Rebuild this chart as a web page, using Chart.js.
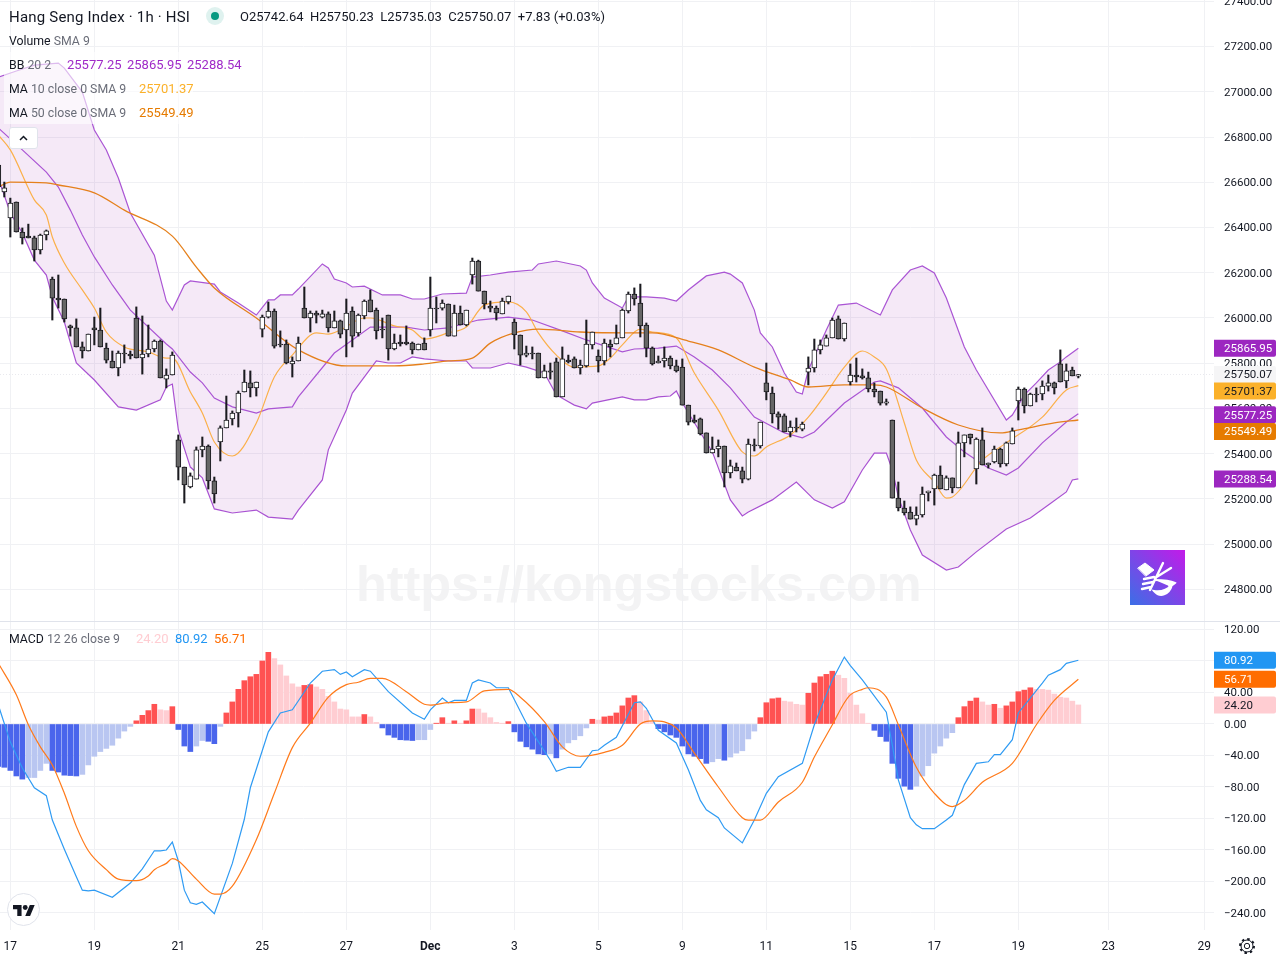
<!DOCTYPE html>
<html><head><meta charset="utf-8">
<script src="https://cdn.jsdelivr.net/npm/chart.js@4"></script>
<style>
html,body{margin:0;padding:0;background:#fff;width:1280px;height:960px;overflow:hidden}
body{position:relative;font-family:Roboto,sans-serif;color:#131722}
canvas{position:absolute;left:0}
.t{position:absolute;white-space:pre;font-size:13px;line-height:18px;z-index:5}
.l{font-size:12.3px}
.g{color:#6a6d78}
.bg{position:absolute;background:rgba(255,255,255,.6);z-index:4}
</style></head><body>
<div id="wm" style="position:absolute;left:356px;top:554px;font:bold 50.4px 'Liberation Sans';color:#f3f3f4;white-space:pre;z-index:0">https://kongstocks.com</div>
<canvas id="main" width="1280" height="621" style="top:0;width:1280px;height:621px;z-index:1"></canvas>
<canvas id="macd" width="1280" height="338" style="top:622px;width:1280px;height:338px;z-index:1"></canvas>
<div style="position:absolute;left:0;top:621px;width:1280px;height:1px;background:#e0e3eb;z-index:2"></div>
<div class="bg" style="left:4px;top:52px;width:241px;height:24px"></div>
<div class="bg" style="left:4px;top:76px;width:189px;height:48px"></div>
<div class="t" style="left:9px;top:8px;font-size:15px;letter-spacing:.2px">Hang Seng Index · 1h · HSI</div>
<div style="position:absolute;left:206px;top:7px;width:18px;height:18px;border-radius:9px;background:rgba(8,153,129,.13);z-index:5"></div>
<div style="position:absolute;left:211px;top:12px;width:8px;height:8px;border-radius:4px;background:#089981;z-index:5"></div>
<div class="t" style="left:240px;top:8px">O25742.64  H25750.23  L25735.03  C25750.07  +7.83 (+0.03%)</div>
<div class="t l" style="left:9px;top:32px">Volume <span class="g">SMA 9</span></div>
<div class="t l" style="left:9px;top:56px">BB <span class="g">20 2</span></div>
<div class="t" style="left:67px;top:56px;color:#a02bc8">25577.25</div>
<div class="t" style="left:127px;top:56px;color:#a02bc8">25865.95</div>
<div class="t" style="left:187px;top:56px;color:#a02bc8">25288.54</div>
<div class="t l" style="left:9px;top:80px">MA <span class="g">10 close 0 SMA 9</span></div>
<div class="t" style="left:139px;top:80px;color:#fbb12a">25701.37</div>
<div class="t l" style="left:9px;top:104px">MA <span class="g">50 close 0 SMA 9</span></div>
<div class="t" style="left:139px;top:104px;color:#e67b00">25549.49</div>
<div style="position:absolute;left:9px;top:127px;width:27px;height:20px;background:#fff;border:1px solid #e0e3eb;border-radius:3px;z-index:5">
<svg width="27" height="20"><path d="M10 12l3.5-3.5L17 12" fill="none" stroke="#131722" stroke-width="1.5"/></svg></div>
<div class="t l" style="left:9px;top:630px">MACD <span class="g">12 26 close 9</span></div>
<div class="t" style="left:136px;top:630px;color:#ffcdd2">24.20</div>
<div class="t" style="left:175px;top:630px;color:#2196f3">80.92</div>
<div class="t" style="left:214px;top:630px;color:#ff6d00">56.71</div>
<div style="position:absolute;left:1130px;top:550px;width:55px;height:55px;background:linear-gradient(45deg,#3b6fe6,#c31ae9);z-index:3">
<svg width="55" height="55" fill="none" stroke="#fff" stroke-linecap="round">
<path d="M8 18l7-5 9 7-8 6z" fill="#fff" stroke-width="1"/>
<path d="M33 13L20 40M41 18L25 28M14 29l10-2M13 34l10-2M12 39l9-2" stroke-width="2.4"/>
<path d="M25 30c7 0 14 0 20 3-2 2-4 3-6 3M24 41c6 7 15 4 18-6-6 6-12 7-18 6z" fill="#fff" stroke-width="2"/>
</svg></div>
<div style="position:absolute;left:7px;top:893px;width:33px;height:33px;border-radius:50%;background:#fff;border:1px solid #e0e3eb;z-index:4;box-sizing:border-box">
<svg style="position:absolute;left:4.5px;top:10.5px" width="22" height="11" viewBox="0 4 36 18"><path fill="#131722" d="M14 22H7V11H0V4h14v18zM28 22h-8l7.5-18h8L28 22z"/><circle fill="#131722" cx="20" cy="8" r="4"/></svg></div>
<svg style="position:absolute;left:1238px;top:937px;z-index:4" width="18" height="18" fill="none" stroke="#131722"><circle cx="9" cy="9" r="2.7"/><circle cx="9" cy="9" r="6"/><circle cx="9" cy="9" r="7" stroke-width="2" stroke-dasharray="2.5 3"/></svg>
<script>
const tickIdx=[2,16,30,44,58,72,86,100,114,128,142,156,170,185,201];
const tickLabels=["17","19","21","25","27","Dec","3","5","9","11","15","17","19","23","29"];
const opens=[26676,26557,26442,26513,26380,26362,26354,26301,26367,26172,
26088,26084,25965,25956,25872,25854,25956,25947,25867,25810,
25779,25845,25841,26000,25823,25841,25863,25898,25730,25748,
25461,25341,25253,25288,25417,25434,25280,25452,25514,25554,
25580,25673,25713,25691,25951,26004,26031,25885,25885,25797,
25810,26044,26000,26022,26004,26018,25956,25987,25947,26031,
25934,26009,26080,26035,25951,26013,25863,25894,25894,25889,
25859,25889,25947,26044,26044,26062,25920,26022,25969,26190,
26252,26119,26053,26044,26018,26071,25982,25925,25836,25845,
25845,25735,25766,25806,25651,25814,25819,25779,25788,25881,
25832,25810,25885,25885,25912,26031,26106,26066,25969,25867,
25801,25810,25823,25788,25783,25615,25549,25554,25492,25403,
25421,25434,25315,25341,25324,25288,25439,25434,25713,25668,
25576,25567,25496,25518,25509,25761,25779,25859,25876,25912,
25996,25907,25717,25748,25744,25735,25686,25677,25624,25549,
25204,25160,25142,25111,25129,25227,25244,25306,25240,25293,
25249,25448,25487,25333,25461,25350,25364,25421,25355,25443,
25633,25686,25611,25664,25664,25699,25713,25797,25722,25770,25742.64];
const highs=[26685,26601,26530,26513,26398,26415,26362,26371,26389,26181,
26190,26084,25969,25996,25894,25929,26004,26044,25889,25854,
25854,25881,25854,26049,26009,25969,25903,25903,25775,25850,
25483,25341,25315,25430,25474,25439,25297,25523,25655,25589,
25677,25770,25766,25717,26013,26071,26040,25943,25903,25828,
25916,26137,26031,26031,26035,26027,26031,25991,26084,26049,
26018,26080,26124,26044,26000,26013,25929,25925,25965,25894,
25885,25912,26181,26093,26080,26062,26057,26053,26035,26265,
26256,26119,26075,26053,26088,26097,25996,25925,25876,25872,
25845,25792,25801,25823,25872,25836,25828,25814,25991,25938,
25859,25907,25903,25969,26040,26115,26133,26150,25978,25872,
25832,25872,25832,25814,25819,25615,25571,25558,25492,25474,
25461,25434,25372,25359,25341,25465,25465,25540,25801,25695,
25585,25576,25545,25558,25540,25828,25907,25903,25925,26000,
26009,25978,25797,25823,25775,25761,25713,25677,25642,25549,
25275,25191,25165,25165,25253,25235,25310,25346,25302,25293,
25496,25483,25487,25470,25514,25359,25434,25425,25452,25514,
25695,25691,25668,25691,25722,25748,25717,25859,25797,25783,25750.23];
const lows=[26579,26535,26358,26380,26327,26354,26252,26283,26345,25991,
26044,25982,25920,25872,25823,25854,25881,25872,25801,25779,
25744,25801,25819,25823,25752,25828,25850,25735,25691,25748,
25284,25182,25249,25288,25386,25244,25182,25368,25514,25527,
25518,25673,25651,25655,25916,26000,25867,25872,25797,25739,
25810,26000,25938,25978,26000,25938,25956,25912,25828,25872,
25920,25996,26027,25907,25912,25814,25859,25876,25881,25841,
25859,25859,25920,25978,26035,25920,25920,25969,25965,26150,
26119,26040,26027,25991,26018,26062,25863,25792,25828,25819,
25735,25735,25730,25651,25651,25801,25779,25752,25783,25863,
25761,25792,25828,25885,25912,26022,26057,25916,25828,25792,
25801,25783,25775,25761,25615,25527,25536,25483,25403,25403,
25386,25253,25293,25324,25271,25284,25412,25425,25638,25536,
25509,25496,25474,25496,25501,25704,25761,25841,25876,25912,
25907,25898,25704,25717,25730,25673,25651,25615,25615,25204,
25147,25129,25111,25085,25120,25191,25173,25244,25240,25227,
25249,25386,25443,25266,25350,25337,25359,25341,25346,25443,
25549,25580,25611,25629,25638,25677,25664,25717,25691,25744,25735.03];
const closes=[26579,26575,26508,26380,26354,26354,26301,26367,26385,26088,
26080,25996,25956,25872,25854,25929,25947,25872,25814,25779,
25845,25841,25832,25823,25841,25863,25898,25735,25748,25836,
25341,25262,25302,25417,25434,25280,25222,25514,25549,25580,
25668,25717,25691,25717,26004,26031,25876,25881,25801,25810,
25889,26000,26022,26013,26018,25956,25987,25929,26022,25920,
26013,26075,26027,25943,25947,25863,25889,25885,25885,25859,
25885,25859,26044,26040,26066,25920,26022,25969,26035,26252,
26119,26062,26044,26022,26075,26097,25925,25836,25845,25841,
25735,25766,25761,25651,25819,25806,25779,25792,25885,25938,
25810,25889,25872,25912,26035,26106,26084,25965,25867,25797,
25810,25823,25788,25766,25615,25540,25540,25487,25403,25421,
25434,25315,25346,25324,25288,25443,25434,25540,25673,25576,
25562,25496,25518,25514,25531,25779,25859,25881,25912,25991,
25907,25978,25748,25739,25735,25686,25673,25624,25629,25204,
25160,25138,25111,25129,25222,25235,25306,25244,25293,25249,
25448,25483,25470,25465,25350,25359,25421,25355,25448,25501,
25686,25611,25664,25660,25699,25713,25691,25717,25766,25744,25750.07];

const bbUpperIdx=[0,3,6,10,11,14,16,18,20,22,26,28,29,31,32,36,37,40,43,45,46,47,49,50,54,55,56,58,59,61,64,67,69,71,74,78,79,82,85,89,90,93,97,98,99,101,104,105,108,111,113,115,118,121,122,124,126,127,129,131,133,134,135,138,140,143,145,147,149,152,154,156,158,161,163,168,169,171,173,175,177,178,180];
const bbUpperVal=[27065,27092,27118,27127,27105,26999,26831,26743,26619,26464,26278,26075,26035,26146,26164,26150,26115,26066,26013,26080,26080,26102,26102,26128,26239,26221,26172,26155,26137,26141,26102,26102,26084,26084,26106,26110,26181,26190,26203,26212,26239,26252,26230,26212,26155,26088,26044,26093,26093,26088,26075,26124,26186,26203,26194,26155,26035,25934,25872,25757,25673,25664,25770,25947,26057,26066,26040,26013,26124,26212,26230,26199,26088,25872,25770,25549,25571,25660,25713,25770,25806,25828,25866];
const bbMidIdx=[0,4,8,10,12,14,16,19,22,28,29,32,34,36,39,43,45,49,50,56,62,64,68,71,75,80,85,89,94,98,104,106,110,113,116,119,122,126,131,134,136,141,146,147,150,154,158,161,165,168,170,174,178,180];
const bbMidVal=[26840,26743,26645,26579,26477,26367,26270,26146,26035,25885,25863,25761,25713,25646,25607,25580,25598,25607,25651,25845,25960,25960,25960,25947,25956,25991,26004,25991,25943,25903,25850,25863,25867,25876,25828,25770,25691,25562,25492,25470,25496,25624,25717,25722,25691,25602,25474,25408,25337,25306,25337,25448,25540,25577];
const bbLowerIdx=[0,2,4,6,8,9,11,13,16,20,23,27,28,29,30,32,34,36,39,43,45,49,50,54,55,58,59,63,65,67,69,71,75,78,79,82,85,88,91,93,96,98,99,104,106,108,110,112,113,114,119,122,124,125,129,133,136,139,141,144,146,148,149,150,152,154,158,160,163,168,172,175,178,179,180];
const bbLowerVal=[26619,26464,26376,26256,26190,26093,25982,25801,25726,25607,25593,25638,25695,25708,25505,25341,25293,25156,25138,25151,25120,25111,25151,25284,25417,25593,25668,25810,25801,25801,25828,25819,25810,25810,25779,25779,25801,25783,25757,25660,25615,25598,25624,25651,25638,25638,25651,25655,25677,25624,25408,25196,25125,25142,25196,25275,25196,25160,25187,25328,25403,25403,25328,25209,25063,24952,24886,24899,24966,25067,25116,25173,25231,25284,25289];
const ma10Idx=[0,2,6,8,9,11,14,16,18,21,25,28,29,32,34,36,39,43,46,49,53,55,57,61,62,66,69,71,75,78,81,85,88,90,93,96,100,102,104,107,109,113,116,120,124,126,128,132,135,138,141,144,146,148,151,153,156,158,159,164,168,174,178,180];
const ma10Val=[26809,26743,26522,26455,26358,26243,26124,26044,25938,25872,25850,25823,25823,25673,25580,25452,25390,25536,25739,25836,25934,25929,25947,26000,26000,25965,25947,25907,25934,25960,26057,26071,26027,25934,25836,25783,25788,25823,25881,25951,25938,25912,25757,25593,25408,25390,25430,25483,25562,25668,25783,25854,25828,25775,25536,25372,25275,25204,25209,25372,25448,25562,25682,25701];
const ma50Idx=[0,2,8,10,16,21,29,33,36,43,50,58,66,71,75,79,82,86,90,97,105,109,115,120,126,132,135,141,146,148,154,160,167,170,176,180];
const ma50Val=[26579,26601,26597,26588,26553,26477,26362,26225,26133,26000,25859,25788,25788,25797,25810,25823,25889,25934,25951,25938,25934,25934,25898,25859,25783,25726,25695,25704,25704,25695,25602,25527,25492,25505,25536,25549];

const macdHist=[-54,-55,-59,-66,-70,-68,-68,-59,-50,-59,-61,-65,-65.5,-66,-64,-52,-41,-35,-31,-27,-18,-9,-3,4,11,17,25,18,17,22,-7,-28,-35,-28,-21,-22,-25,-3,14,28,44,55,60,63,80,91,83,75,61,51,47,49,50,47,44,35,28,19,18,9,9,12,9,2,-5,-14,-17,-20,-20.5,-21,-20,-20,-7,1,8,1,4,1,4,19,19,14,8,2,1,3,-10,-22,-29,-32,-38,-39,-38,-43,-32,-24,-20,-15,-5,6,5,9,10,14,23,33,36,28,17,3,-6,-10,-14,-17,-28,-38,-41,-44,-50,-48,-44,-46,-42,-37,-34,-19,-9,8,27,32,33,29,28,25,24,39,52,60,63,67,62,58,39,24,13,1,-8,-16,-22,-50,-69,-79,-83,-79,-66,-53,-37,-28,-18,-11,8,22,29,33,28,24,25,20,23,28,41,43,46,44,44,43,38,34,33,29,24.2];
const macdIdx=[0,2,4,6,8,9,11,13,14,15,16,19,22,24,26,27,28,29,30,31,32,33,34,36,39,41,42,45,47,49,52,54,56,57,58,59,61,62,65,69,71,72,74,75,76,78,79,80,82,83,85,88,92,93,95,97,99,100,101,103,106,107,108,110,113,115,117,118,120,121,124,126,128,130,134,136,139,141,142,144,148,149,150,152,153,154,156,158,159,161,163,165,166,167,169,170,174,175,177,178,180];
const macdVal=[24,-23,-56,-81,-91,-122,-159,-194,-211,-212,-211,-220,-202,-184,-161,-161,-160,-150,-174,-211,-227,-229,-226,-241,-177,-121,-81,-10,14,18,52,67,69,63,66,60,69,67,41,14,6,18,33,27,30,30,52,56,52,46,46,1,-46,-60,-55,-55,-34,-33,-27,-17,27,28,20,-8,-24,-58,-97,-109,-119,-132,-151,-122,-88,-67,-50,-1,56,85,74,56,15,-27,-71,-119,-128,-133,-133,-122,-116,-77,-50,-48,-39,-39,-20,14,52,62,69,77,80.92];
const signalIdx=[0,3,5,7,9,11,13,15,18,20,23,25,26,28,29,30,33,36,37,39,43,46,49,52,55,58,60,62,64,68,71,72,75,78,81,85,87,91,94,97,101,104,107,109,113,116,120,124,125,127,130,134,136,139,141,142,144,145,148,150,153,156,159,161,164,169,173,176,180];
const signalVal=[77,37,-1,-29,-52,-88,-130,-161,-185,-197,-199,-193,-185,-177,-171,-174,-197,-216,-216,-206,-147,-88,-30,1,34,50,53,58,58,41,25,24,27,28,42,44,34,3,-29,-41,-36,-27,0,4,-5,-37,-80,-119,-122,-122,-99,-74,-42,-1,27,37,44,46,34,-1,-55,-88,-105,-97,-74,-50,-1,30,56.71];

const FONT="Roboto,sans-serif", AX=11.5;
const zip=(xs,ys)=>xs.map((x,k)=>({x,y:ys[k]}));
const SMOOTH={cubicInterpolationMode:'monotone'};
const line=(xs,ys,color,w,extra)=>Object.assign({type:'line',data:zip(xs,ys),borderColor:color,borderWidth:w,pointRadius:0,tension:0,fill:false},extra||{});
const GRID='#f0f1f4';
const XMIN=0.278, XMAX=202.61;
function xScale(show){return {type:'linear',min:XMIN,max:XMAX,offset:false,
  afterBuildTicks:s=>{s.ticks=tickIdx.map(v=>({value:v}))},
  afterFit:s=>{s.paddingLeft=0;s.paddingRight=0;s.height=show?30:0},
  grid:{color:GRID,offset:false,drawTicks:false},border:{display:false},
  ticks:{display:show,autoSkip:false,maxRotation:0,padding:10,color:'#131722',
    font:c=>({family:FONT,size:12,weight:c.tick&&c.tick.value===72?'bold':'normal'}),
    callback:v=>tickLabels[tickIdx.indexOf(v)]}};}
function yScale(min,max,step,fmt){return {type:'linear',position:'right',min,max,
  afterFit:s=>{s.width=66;s.paddingTop=0;s.paddingBottom=0},
  grid:{color:GRID,drawTicks:false},border:{display:false},
  ticks:{stepSize:step,includeBounds:false,autoSkip:false,padding:10,labelOffset:1,color:'#131722',font:{family:FONT,size:AX},callback:fmt}};}
function badges(list){return {id:'badges',afterDraw(ch){const c=ch.ctx,sc=ch.scales.y;c.save();
  c.font=AX+'px '+FONT;c.textBaseline='middle';
  list.forEach(b=>{const y=sc.getPixelForValue(b.v)+(b.d||0);
    c.fillStyle=b.bg;c.beginPath();c.roundRect(1214,y-8.5,62,17,[0,2,2,0]);c.fill();
    c.fillStyle=b.fg;c.textAlign='left';c.fillText(b.t,1224,y+1);});c.restore();}};}
const common={responsive:false,animation:false,events:[],devicePixelRatio:1,layout:{padding:0},plugins:{legend:{display:false},tooltip:{enabled:false}}};
const candleX=closes.map((_,i)=>i);
const wickData=candleX.map(i=>({x:i,y:[lows[i],highs[i]]}));
const bodyData=candleX.map(i=>({x:i,y:[opens[i],closes[i]]}));
const bodyFill=candleX.map(i=>closes[i]<opens[i]?'#666666':'#ffffff');
const LP=closes[closes.length-1];

new Chart(document.getElementById('main'),{type:'bar',
 data:{datasets:[
  line(bbUpperIdx,bbUpperVal,'#aa55d4',1.2,{fill:{target:1},backgroundColor:'rgba(156,39,176,0.1)',order:6}),
  line(bbLowerIdx,bbLowerVal,'#aa55d4',1.2,{order:6}),
  line(bbMidIdx,bbMidVal,'#aa55d4',1.2,{order:5}),
  line(ma10Idx,ma10Val,'#fbb04a',1.2,Object.assign({order:4},SMOOTH)),
  line(ma50Idx,ma50Val,'#e5801c',1.3,Object.assign({order:3},SMOOTH)),
  line([XMIN,XMAX],[LP,LP],'#e9e9ee',1,{borderDash:[1,2],order:7}),
  {type:'bar',data:wickData,backgroundColor:'#1a1a1f',barThickness:1.4,grouped:false,order:2},
  {type:'bar',data:bodyData,backgroundColor:bodyFill,borderColor:'#1a1a1f',borderWidth:1,borderSkipped:false,barThickness:5,grouped:false,order:1}
 ]},
 options:Object.assign({},common,{scales:{x:xScale(false),y:yScale(24660.5,27405.8,200,v=>v.toFixed(2))}}),
 plugins:[badges([
  {v:25865.95,t:'25865.95',bg:'#9c27c0',fg:'#fff'},
  {v:25750.07,t:'25750.07',bg:'#f5f5f6',fg:'#131722'},
  {v:25701.37,d:5.5,t:'25701.37',bg:'#fbb12a',fg:'#131722'},
  {v:25577.25,d:1,t:'25577.25',bg:'#9c27c0',fg:'#fff'},
  {v:25549.49,d:11.5,t:'25549.49',bg:'#e67b00',fg:'#fff'},
  {v:25288.54,t:'25288.54',bg:'#9c27c0',fg:'#fff'}])]});

const histColor=macdHist.map((v,i)=>{const p=i?macdHist[i-1]:0;
  return v>=0?(v>p?'#ff5252':'#ffcdd2'):(v<p?'#4a65ec':'#b9c6f1');});
new Chart(document.getElementById('macd'),{type:'bar',
 data:{datasets:[
  {type:'bar',data:macdHist.map((v,i)=>({x:i,y:v})),backgroundColor:histColor,barThickness:5,grouped:false,order:3},
  line(macdIdx,macdVal,'#2f9bf3',1.2,{order:2}),
  line(signalIdx,signalVal,'#ff7a1a',1.2,Object.assign({order:1},SMOOTH))
 ]},
 options:Object.assign({},common,{scales:{x:xScale(true),y:yScale(-261.6,129.5,40,v=>v===80?'':v.toFixed(2).replace('-','\u2212'))}}),
 plugins:[badges([
  {v:80.92,t:'80.92',bg:'#2196f3',fg:'#fff'},
  {v:56.71,t:'56.71',bg:'#ff6d00',fg:'#fff'},
  {v:24.20,t:'24.20',bg:'#ffcdd2',fg:'#131722'}])]});
</script>
</body></html>
